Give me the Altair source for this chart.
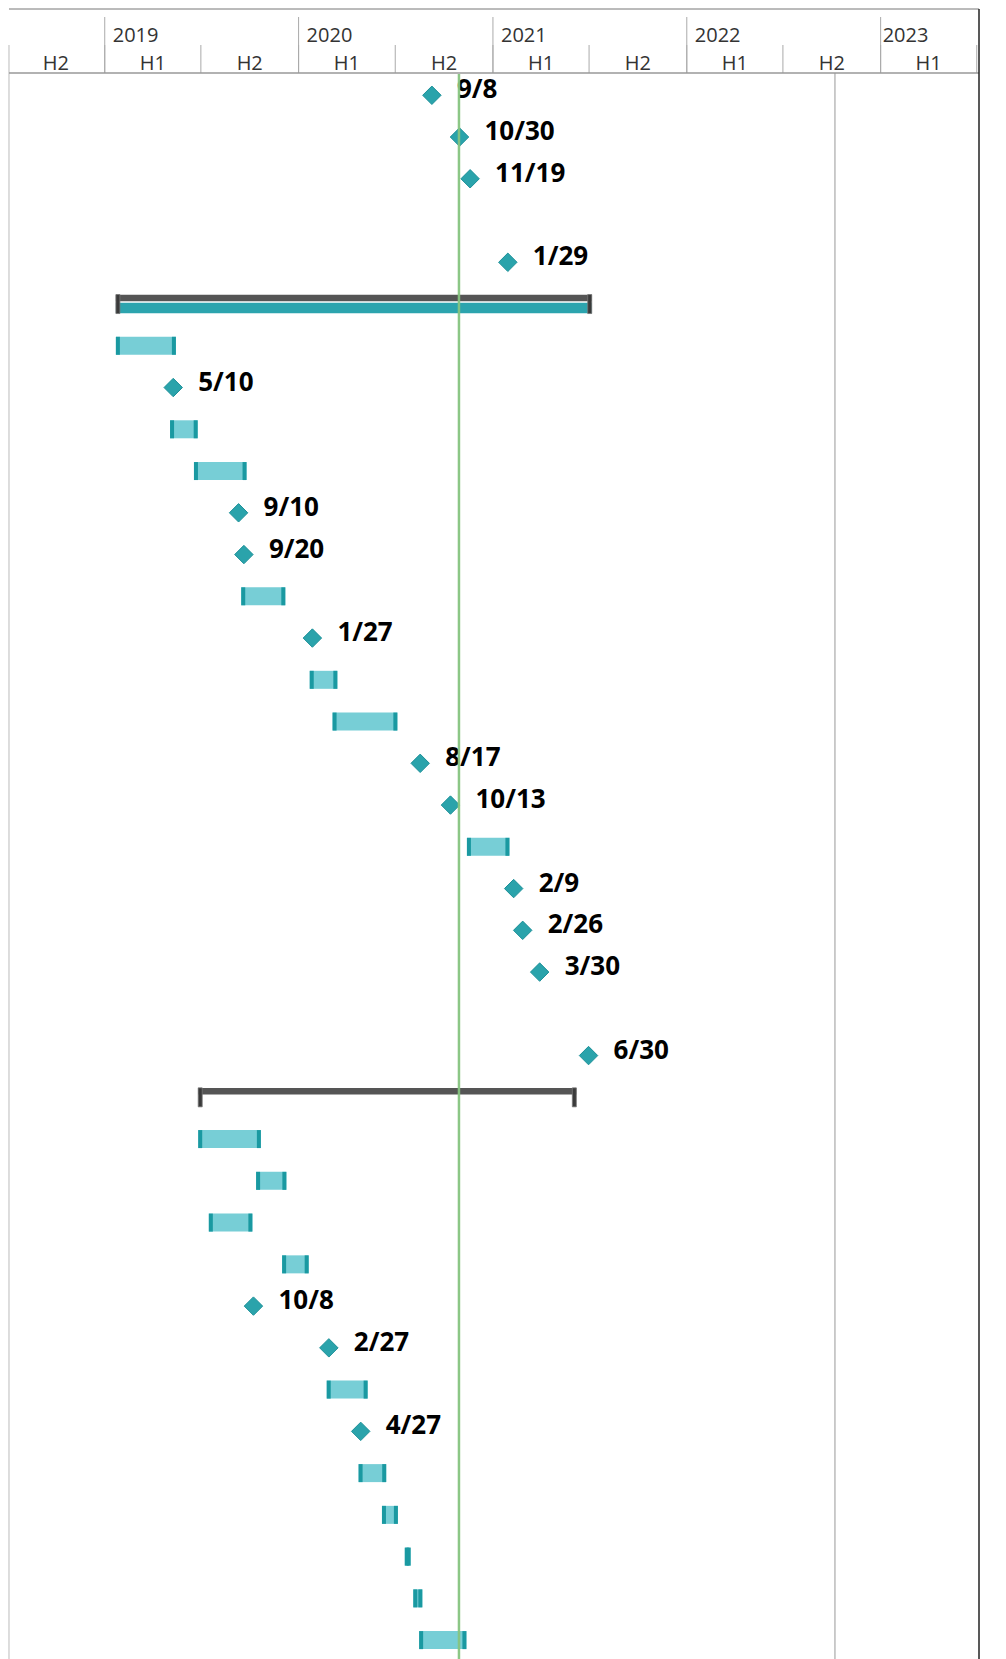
import altair as alt
import pandas as pd

# ---------------- data ----------------
milestone_rows = [0, 1, 2, 4, 7, 10, 11, 13, 16, 17, 19, 20, 21, 23, 29, 30, 32]
milestone_dates = ["2020-09-08", "2020-10-30", "2020-11-19", "2021-01-29", "2019-05-10",
                   "2019-09-10", "2019-09-20", "2020-01-27", "2020-08-17", "2020-10-13",
                   "2021-02-09", "2021-02-26", "2021-03-30", "2021-06-30", "2019-10-08",
                   "2020-02-27", "2020-04-27"]
milestone_labels = ["9/8", "10/30", "11/19", "1/29", "5/10", "9/10", "9/20", "1/27", "8/17",
                    "10/13", "2/9", "2/26", "3/30", "6/30", "10/8", "2/27", "4/27"]

task_rows = [6, 8, 9, 12, 14, 15, 18, 25, 26, 27, 28, 31, 33, 34, 35, 36, 37]
task_starts = ["2019-01-22", "2019-05-04", "2019-06-18", "2019-09-15", "2020-01-22",
               "2020-03-05", "2020-11-13", "2019-06-26", "2019-10-13", "2019-07-16",
               "2019-12-01", "2020-02-23", "2020-04-23", "2020-06-06", "2020-07-19",
               "2020-08-04", "2020-08-15"]
task_ends = ["2019-05-15", "2019-06-25", "2019-09-25", "2019-12-07", "2020-03-14",
             "2020-07-05", "2021-02-01", "2019-10-22", "2019-12-09", "2019-10-06",
             "2020-01-20", "2020-05-10", "2020-06-14", "2020-07-06", "2020-07-30",
             "2020-08-21", "2020-11-12"]

summary_rows = [5, 24]
summary_starts = ["2019-01-22", "2019-06-26"]
summary_ends = ["2021-07-06", "2021-06-07"]
summary_progress = [1.0, 0.0]

year_ticks = ["2019-01-01", "2020-01-01", "2021-01-01", "2022-01-01", "2023-01-01"]
year_labels = ["2019", "2020", "2021", "2022", "2023"]
half_starts = ["2018-07-01", "2019-01-01", "2019-07-01", "2020-01-01", "2020-07-01",
               "2021-01-01", "2021-07-01", "2022-01-01", "2022-07-01", "2023-01-01"]
half_ends = half_starts[1:] + ["2023-07-01"]
half_labels = ["H2", "H1", "H2", "H1", "H2", "H1", "H2", "H1", "H2", "H1"]

today_date = ["2020-10-29"]
marker_date = ["2022-10-07"]

N_ROWS = 38

# ---------------- tables ----------------
ms_df = pd.DataFrame({"row": milestone_rows, "date": milestone_dates, "label": milestone_labels})
ms_df["yc"] = ms_df["row"] + 0.5
task_df = pd.DataFrame({"row": task_rows, "start": task_starts, "end": task_ends})
task_df["yc"] = task_df["row"] + 0.5
sum_df = pd.DataFrame({"row": summary_rows, "start": summary_starts, "end": summary_ends,
                       "progress": summary_progress})
sum_df["yc"] = sum_df["row"] + 0.5
s0 = pd.to_datetime(sum_df["start"])
s1 = pd.to_datetime(sum_df["end"])
sum_df["pend"] = (s0 + (s1 - s0) * sum_df["progress"]).dt.strftime("%Y-%m-%d")
prog_df = sum_df[sum_df["progress"] > 0]

year_df = pd.DataFrame({"date": year_ticks, "label": year_labels})
hs = pd.to_datetime(pd.Series(half_starts))
he = pd.to_datetime(pd.Series(half_ends))
half_df = pd.DataFrame({"start": half_starts, "label": half_labels,
                        "mid": (hs + (he - hs) / 2).dt.strftime("%Y-%m-%dT%H:%M:%SZ")})
half_tick_df = pd.DataFrame({"date": half_ends})

# ---------------- scales ----------------
W, H = 970, 1652
ref0 = pd.Timestamp("2019-01-01", tz="UTC")
pxday = 0.53107
d_start = ref0 + pd.Timedelta(days=(8 - 103.74) / pxday)
d_end = ref0 + pd.Timedelta(days=(978 - 103.74) / pxday)
to_ms = lambda t: int(t.value // 10**6)
xscale = alt.Scale(type="utc", domain=[to_ms(d_start), to_ms(d_end)], nice=False, padding=0)
yscale = alt.Scale(domain=[0, N_ROWS], range=[65.4, H], nice=False, zero=False, padding=0)
edge_df = pd.DataFrame({"date": [d_start.strftime("%Y-%m-%dT%H:%M:%SZ")],
                        "date2": [d_end.strftime("%Y-%m-%dT%H:%M:%SZ")]})


def X(f):
    return alt.X(f"{f}:T", scale=xscale, axis=None)


def Y(f="yc"):
    return alt.Y(f"{f}:Q", scale=yscale, axis=None)


FONT = "Open Sans"
TEAL_LIGHT = "#77CED6"
TEAL_CAP = "#1A99A1"
TEAL = "#2AA3AB"

# ---------------- header ----------------
top_line = alt.Chart(edge_df).mark_rule(color="#777777", strokeWidth=1).encode(
    x=X("date"), x2="date2", y=alt.value(0))
year_rules = alt.Chart(year_df).mark_rule(color="#aaaaaa", strokeWidth=1).encode(
    x=X("date"), y=alt.value(8), y2=alt.value(64))
half_rules = alt.Chart(half_tick_df).mark_rule(color="#aaaaaa", strokeWidth=1).encode(
    x=X("date"), y=alt.value(36), y2=alt.value(64))
year_text = alt.Chart(year_df[year_df["label"] != "2023"]).mark_text(
    align="left", baseline="alphabetic", dx=8, fontSize=20, font=FONT, color="#333333").encode(
    x=X("date"), y=alt.value(33), text="label:N")
year_text_last = alt.Chart(year_df[year_df["label"] == "2023"]).mark_text(
    align="left", baseline="alphabetic", dx=2, fontSize=20, font=FONT, color="#333333").encode(
    x=X("date"), y=alt.value(33), text="label:N")
half_text = alt.Chart(half_df).mark_text(
    align="center", baseline="alphabetic", fontSize=20, font=FONT, color="#333333").encode(
    x=X("mid"), y=alt.value(61), text="label:N")
header_bottom = alt.Chart(edge_df).mark_rule(color="#999999", strokeWidth=1.5).encode(
    x=X("date"), x2="date2", y=alt.value(64))

# ---------------- body lines ----------------
left_line = alt.Chart(edge_df).mark_rule(color="#bbbbbb", strokeWidth=1).encode(
    x=X("date"), y=alt.value(36), y2=alt.value(H))
right_line = alt.Chart(edge_df).mark_rule(color="#222222", strokeWidth=1.5).encode(
    x=X("date2"), y=alt.value(0), y2=alt.value(H))
marker_line = alt.Chart(pd.DataFrame({"date": marker_date})).mark_rule(
    color="#999999", strokeWidth=1).encode(x=X("date"), y=alt.value(64), y2=alt.value(H))
today_line = alt.Chart(pd.DataFrame({"date": today_date})).mark_rule(
    color="#86c47f", strokeWidth=2.5, opacity=0.95).encode(
    x=X("date"), y=alt.value(65), y2=alt.value(H))

# ---------------- tasks ----------------
task_bars = alt.Chart(task_df).mark_bar(size=18, color=TEAL_LIGHT).encode(
    x=X("start"), x2="end", y=Y())
task_cap_l = alt.Chart(task_df).mark_tick(
    orient="vertical", thickness=4, size=18, xOffset=2, color=TEAL_CAP, opacity=1).encode(
    x=X("start"), y=Y())
task_cap_r = alt.Chart(task_df).mark_tick(
    orient="vertical", thickness=4, size=18, xOffset=-2, color=TEAL_CAP, opacity=1).encode(
    x=X("end"), y=Y())

# ---------------- summaries ----------------
sum_bars = alt.Chart(sum_df).mark_bar(size=6.5, yOffset=-6, color="#555555").encode(
    x=X("start"), x2="end", y=Y())
prog_bars = alt.Chart(prog_df).mark_bar(size=10.5, yOffset=4, color="#2CA4AE").encode(
    x=X("start"), x2="pend", y=Y())
sum_cap_l = alt.Chart(sum_df).mark_tick(
    orient="vertical", thickness=4, size=19, xOffset=2, color="#3a3a3a", opacity=1,
    stroke="#777777", strokeWidth=0.8).encode(x=X("start"), y=Y())
sum_cap_r = alt.Chart(sum_df).mark_tick(
    orient="vertical", thickness=4, size=19, xOffset=-2, color="#3a3a3a", opacity=1,
    stroke="#777777", strokeWidth=0.8).encode(x=X("end"), y=Y())

# ---------------- milestones ----------------
diamonds = alt.Chart(ms_df).mark_point(
    shape="diamond", size=340, filled=True, fill=TEAL, stroke="#1d9199", strokeWidth=1,
    opacity=1).encode(x=X("date"), y=Y())
ms_text = alt.Chart(ms_df).mark_text(
    align="left", baseline="alphabetic", dx=25, dy=3, fontSize=26, fontWeight="bold",
    font=FONT, color="#000000").encode(x=X("date"), y=Y(), text="label:N")

chart = alt.layer(
    left_line, marker_line, year_rules, half_rules, top_line, header_bottom,
    year_text, year_text_last, half_text,
    sum_bars, prog_bars, sum_cap_l, sum_cap_r,
    task_bars, task_cap_l, task_cap_r,
    diamonds, ms_text, today_line, right_line,
).properties(width=W, height=H, padding=0).configure_view(strokeWidth=0)

chart.save("out.html", embed_options={"renderer": "svg", "actions": False})
